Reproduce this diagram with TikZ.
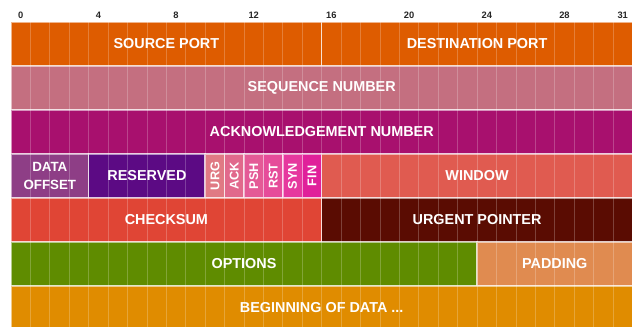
\documentclass[tikz,border=0pt]{standalone}
\usepackage{fontspec}
\setmainfont{Liberation Sans}
\usetikzlibrary{calc}

\definecolor{portcol}{RGB}{222,92,0}
\definecolor{seqcol}{RGB}{196,111,128}
\definecolor{ackcol}{RGB}{168,16,110}
\definecolor{offcol}{RGB}{142,62,134}
\definecolor{rescol}{RGB}{92,10,132}
\definecolor{colURG}{RGB}{224,122,132}
\definecolor{colACK}{RGB}{225,105,140}
\definecolor{colPSH}{RGB}{228,90,150}
\definecolor{colRST}{RGB}{230,76,154}
\definecolor{colSYN}{RGB}{230,56,158}
\definecolor{colFIN}{RGB}{224,32,154}
\definecolor{wincol}{RGB}{224,91,80}
\definecolor{chkcol}{RGB}{224,69,53}
\definecolor{ptrcol}{RGB}{90,12,2}
\definecolor{optcol}{RGB}{95,140,0}
\definecolor{padcol}{RGB}{224,139,80}
\definecolor{datacol}{RGB}{224,140,0}

\tikzset{
	bits/.style={minimum width=#1*\w*0.75pt},
	field/.style={fill=#1, draw=white, draw opacity=0.55, line width=1.1pt,
		anchor=north west, outer sep=0pt, inner sep=0pt,
		minimum height=\h*0.75pt, text=white,
		font=\bfseries\fontsize{10.8}{12}\selectfont,
		path picture={
			\foreach \i in {1,...,31}
				\draw[white, opacity=0.22, line width=0.6pt]
					($(path picture bounding box.north west)+(\i*\w,0)$) --
					($(path picture bounding box.south west)+(\i*\w,0)$);
		}},
	flag/.style={font=\bfseries\fontsize{9.5}{11}\selectfont},
	bitnum/.style={font=\bfseries\fontsize{7}{8}\selectfont, text=black!85, inner sep=0pt}
}

\begin{document}
\begin{tikzpicture}[x=0.75pt, y=-0.75pt]
	\def\xo{11}
	\def\yo{22}
	\def\w{19.42}
	\def\h{44}

	\useasboundingbox (0,0) rectangle (637,326);
	\clip (0,0) rectangle (637,326);

	% bit numbers
	\foreach \b in {0,4,...,28,31}
		\node[bitnum] (n\b) at (\xo+\b*\w+0.5*\w, 15) {\b};

	% ports
	\node[field=portcol, bits=16] (sport) at (\xo,\yo) {SOURCE PORT};
	\node[field=portcol, bits=16] (dport) at (sport.north east) {DESTINATION PORT};

	\node[field=seqcol, bits=32] (seq) at (sport.south west) {SEQUENCE NUMBER};
	\node[field=ackcol, bits=32] (ack) at (seq.south west) {ACKNOWLEDGEMENT NUMBER};

	% offset, reserved, flags, window
	\node[field=offcol, bits=4, align=center,
		font=\bfseries\fontsize{10}{13.5}\selectfont] (offset) at (ack.south west) {DATA\\OFFSET};
	\node[field=rescol, bits=6] (reserved) at (offset.north east) {RESERVED};
	\foreach \f/\p in {URG/reserved, ACK/URG, PSH/ACK, RST/PSH, SYN/RST, FIN/SYN}
		\node[field=col\f, bits=1, flag] (\f) at (\p.north east) {\rotatebox{90}{\f}};
	\node[field=wincol, bits=16] (window) at (FIN.north east) {WINDOW};

	\node[field=chkcol, bits=16] (checksum) at (offset.south west) {CHECKSUM};
	\node[field=ptrcol, bits=16] (urgptr) at (checksum.north east) {URGENT POINTER};

	\node[field=optcol, bits=24] (options) at (checksum.south west) {OPTIONS};
	\node[field=padcol, bits=8] (padding) at (options.north east) {PADDING};

	\node[field=datacol, bits=32] (data) at (options.south west) {BEGINNING OF DATA ...};
\end{tikzpicture}
\end{document}
